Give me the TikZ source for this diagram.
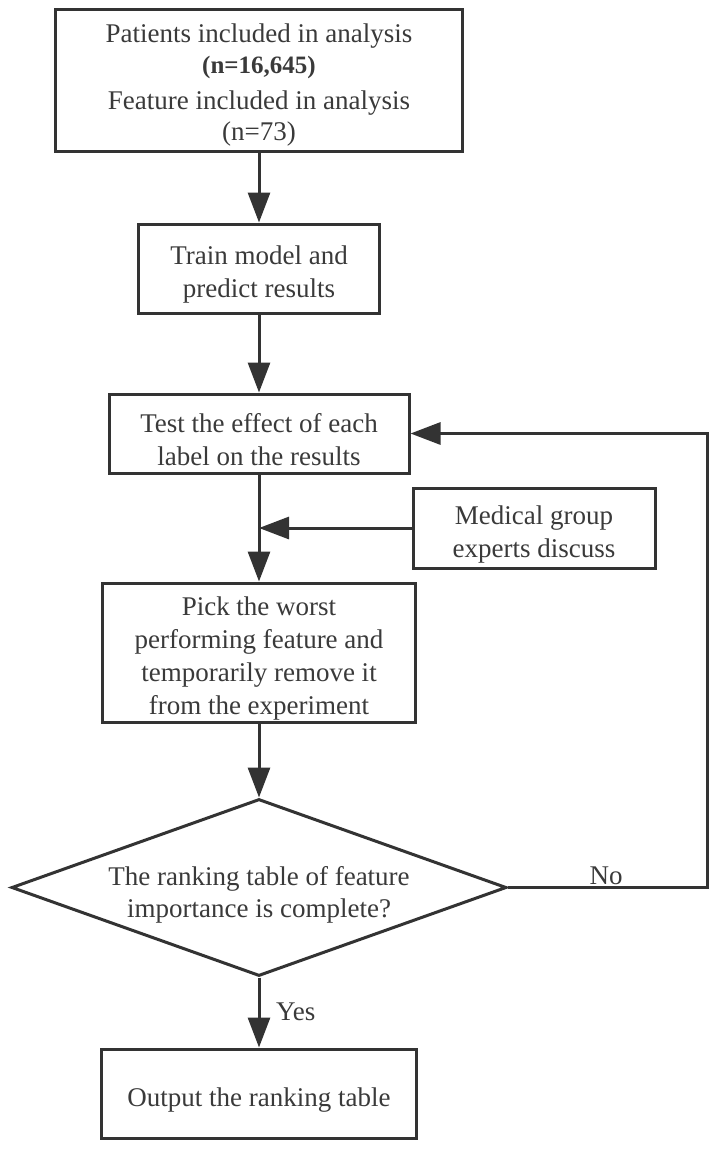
\documentclass[tikz,border=0pt]{standalone}
\usepackage{fontspec}
\setmainfont{Liberation Serif}
\usetikzlibrary{arrows.meta,shapes.geometric}
\definecolor{ink}{HTML}{333333}
\definecolor{txtc}{HTML}{3A3A3A}
\begin{document}
\begin{tikzpicture}[x=1pt,y=-1pt,
  box/.style={draw=ink, line width=3pt, rectangle, inner sep=0pt},
  dia/.style={draw=ink, line width=3pt, diamond, inner sep=0pt},
  txt/.style={text=txtc, align=center, font=\fontsize{27}{33}\selectfont, inner sep=0pt},
  arr/.style={draw=ink, line width=3pt, -{Triangle[length=30pt,width=22pt]}}
]
\useasboundingbox[fill=white] (0,0) rectangle (717,1149);

\node[box, minimum width=407pt, minimum height=142pt] (b1) at (259,80) {};
\node[txt, anchor=north, font=\fontsize{27}{31}\selectfont] (b1t) at (259,23.5)
  {Patients included in analysis\\{\bfseries\fontsize{25}{31}\selectfont (n=16,645)}\\[5pt]Feature included in analysis\\(n=73)};

\node[box, minimum width=241pt, minimum height=89pt] (b2) at (259,268.5) {};
\node[txt] (b2t) at ([yshift=-6pt]b2.center) {Train model and\\predict results};

\node[box, minimum width=300pt, minimum height=79pt] (b3) at (259,433.5) {};
\node[txt] (b3t) at ([yshift=-6pt]b3.center) {Test the effect of each\\label on the results};

\node[box, minimum width=242pt, minimum height=80pt] (med) at (534,528) {};
\node[txt] (medt) at ([yshift=-6pt]med.center) {Medical group\\experts discuss};

\node[box, minimum width=313pt, minimum height=139pt] (b4) at (259,652.5) {};
\node[txt] (b4t) at ([yshift=-6pt]b4.center) {Pick the worst\\performing feature and\\temporarily remove it\\from the experiment};

\node[dia, minimum width=495pt, minimum height=177pt] (d) at (259,887.5) {};
\node[txt, font=\fontsize{27}{32}\selectfont] (dt) at ([yshift=-7pt]d.center) {The ranking table of feature\\importance is complete?};

\node[box, minimum width=315pt, minimum height=89pt] (b5) at (259,1093.5) {};
\node[txt] (b5t) at ([yshift=-7pt]b5.center) {Output the ranking table};

\coordinate (loop) at (707,0);

\draw[arr] (b1.south) -- (b2.north);
\draw[arr] (b2.south) -- (b3.north);
\draw[arr] (b3.south) -- (b4.north);
\draw[arr] (med.west) -- (med.west -| b3.south);
\draw[arr] (b4.south) -- (d.north);
\draw[arr] (d.east) -- (d.east -| loop) |- (b3.east);
\draw[arr] (d.south) -- (b5.north);

\node[txt] (no) at (606,876) {No};
\node[txt, anchor=west] (yes) at (276,1012) {Yes};
\end{tikzpicture}
\end{document}
